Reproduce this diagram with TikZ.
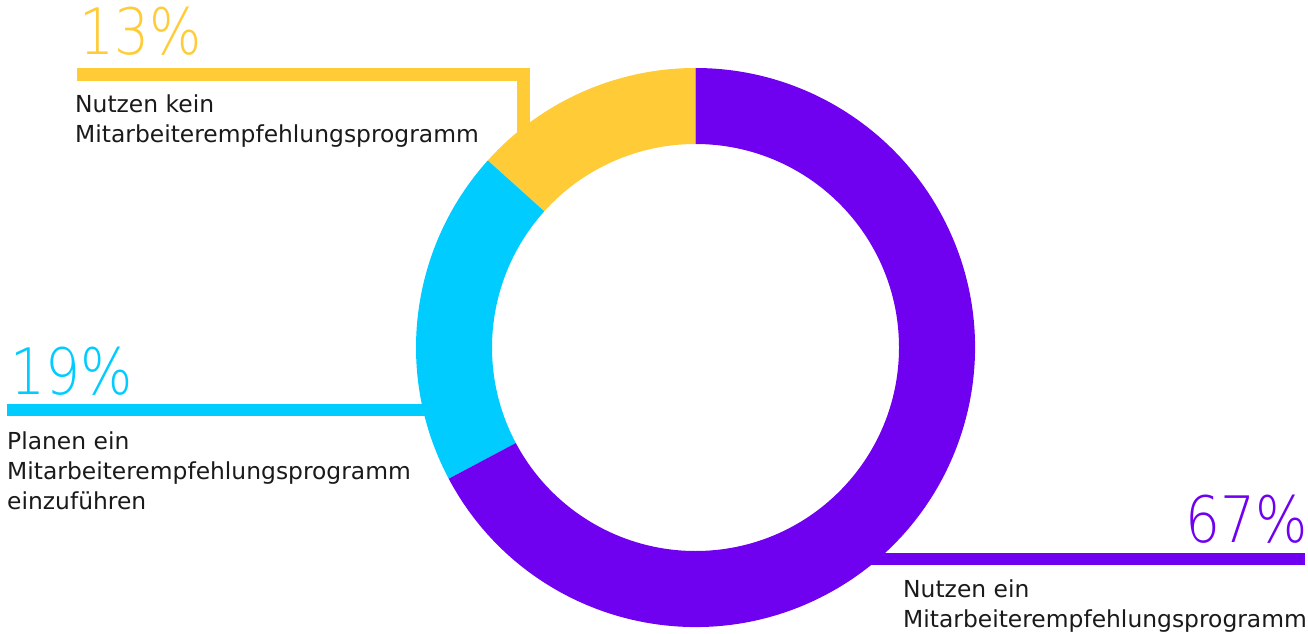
\documentclass[tikz,border=0pt]{standalone}
\usepackage{fontspec}
\setmainfont{DejaVu Sans}
\newfontfamily\pctfont[FakeStretch=0.86]{DejaVu Sans ExtraLight}
\usetikzlibrary{calc}
\usetikzlibrary{positioning}
\definecolor{rpyellow}{HTML}{FFCB37}
\definecolor{rpcyan}{HTML}{00CCFF}
\definecolor{rppurple}{HTML}{7000F0}
\definecolor{rpink}{HTML}{1A1A1A}
\tikzset{
  rplead/.style={line width=12.5pt, line join=miter},
  rppct/.style={inner sep=0pt, font=\pctfont\fontsize{64}{64}\selectfont},
  rplabel/.style={
    inner sep=0pt, align=left, text=rpink,
    font=\fontsize{23.4}{30}\selectfont},
}

\begin{document}
\begin{tikzpicture}[x=1pt, y=1pt]
\useasboundingbox (0,0) rectangle (1308,633);

% Ring centre and the free ends of the leader bars.
\coordinate (ring) at (695.5, 285.5);
\coordinate (noStart) at (77, 558.5);
\coordinate (noBend) at (523.5, 558.5);
\coordinate (noEnd) at (523.5, 480);
\coordinate (planStart) at (7, 223);
\coordinate (planEnd) at (460, 223);
\coordinate (useStart) at (860, 74);
\coordinate (useEnd) at (1305, 74);

% Leader bars, drawn first so the ring covers their inner ends.
\draw[rplead, rpyellow] (noStart) -- (noBend) -- (noEnd);
\draw[rplead, rpcyan] (planStart) -- (planEnd);
\draw[rplead, rppurple] (useStart) -- (useEnd);

% Ring segments: 13 / 19 / 67 percent.
\foreach \from/\to/\col in {90/138/rpyellow, 138/208/rpcyan,
                            208/450/rppurple} {
  \fill[\col] ($(ring)+(\from:279.5pt)$)
    arc[start angle=\from, end angle=\to, radius=279.5pt]
    -- ($(ring)+(\to:203.5pt)$)
    arc[start angle=\to, end angle=\from, radius=203.5pt] -- cycle;
}

% Shares.
\node[rppct, text=rpyellow, anchor=base west] (pctNo) at (79, 578)
  {13\%};
\node[rppct, text=rpcyan, anchor=base west] (pctPlan) at (10, 239)
  {19\%};
\node[rppct, text=rppurple, anchor=base east] (pctUse) at (1308, 91)
  {67\%};

% Labels under the bars (anchored on the last line).
\node[rplabel, anchor=base west] (lblNo) at (75, 490)
  {Nutzen kein\\Mitarbeiterempfehlungsprogramm};
\node[rplabel, anchor=base west] (lblPlan) at (7, 124)
  {Planen ein\\Mitarbeiterempfehlungsprogramm\\einzuführen};
\node[rplabel, anchor=base west] (lblUse) at (903, 6)
  {Nutzen ein\\Mitarbeiterempfehlungsprogramm};

\end{tikzpicture}
\end{document}
